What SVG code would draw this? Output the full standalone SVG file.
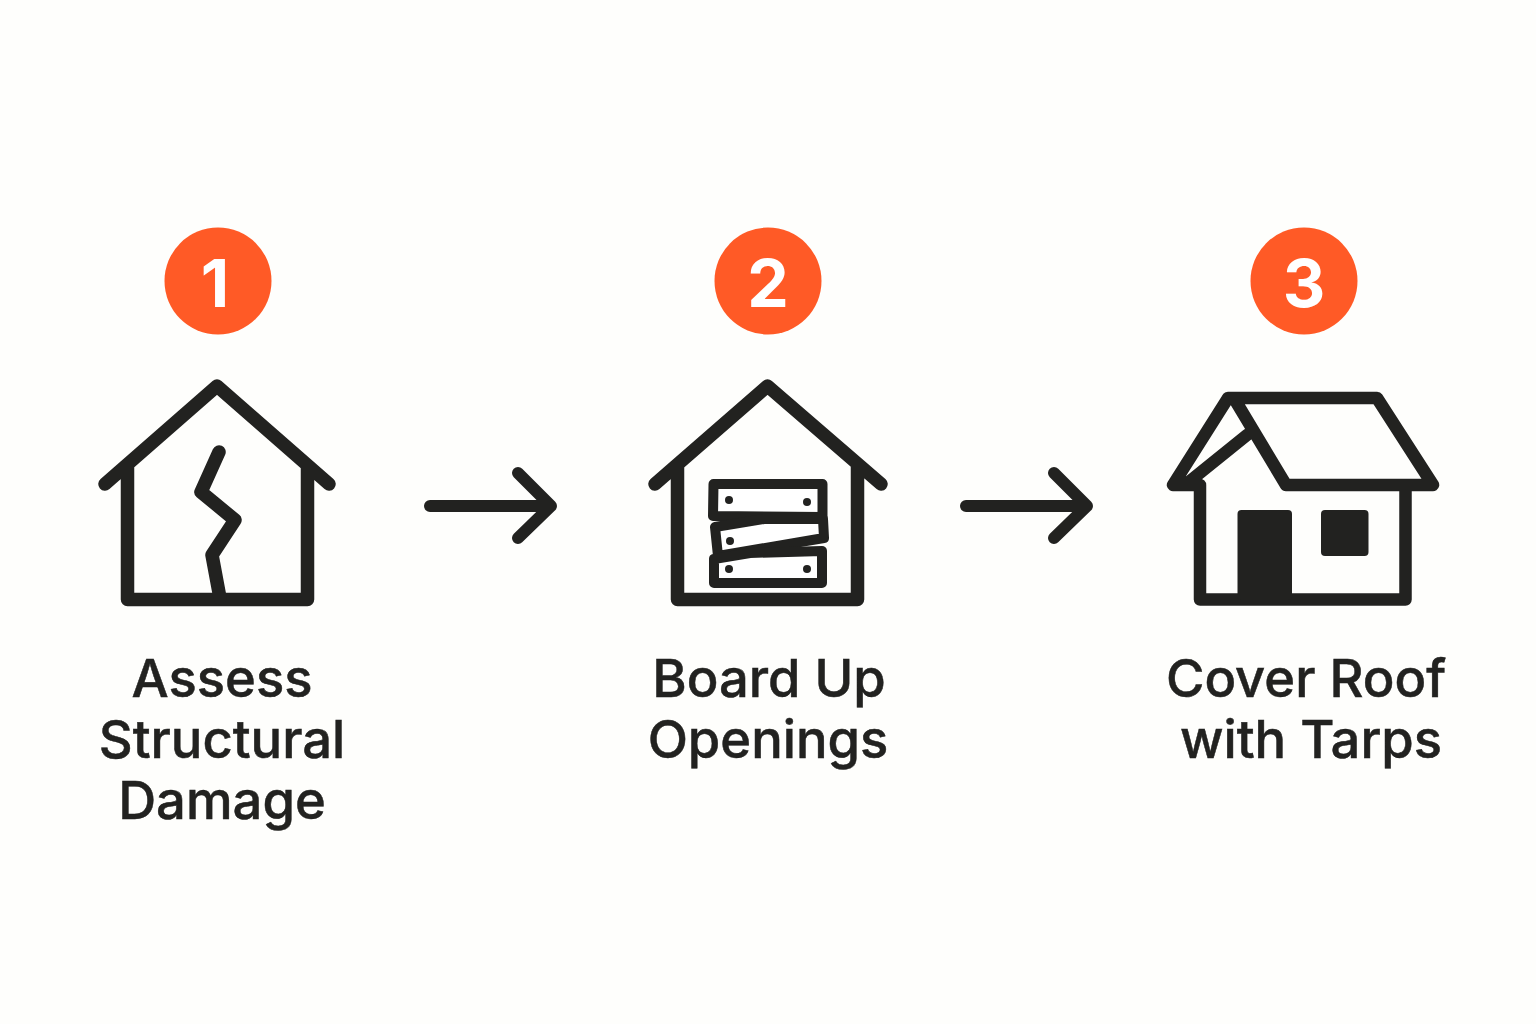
<svg xmlns="http://www.w3.org/2000/svg" width="1536" height="1024" viewBox="0 0 1536 1024">
<style>
.l{fill:none;stroke:#222220;stroke-width:13.500;stroke-linecap:round;stroke-linejoin:round}
.r{fill:none;stroke:#222220;stroke-width:12.500;stroke-linecap:round;stroke-linejoin:round}
.a{fill:none;stroke:#222220;stroke-width:12;stroke-linecap:round;stroke-linejoin:round}
.b{fill:#fff;stroke:#222220;stroke-width:10;stroke-linejoin:round}
.d{fill:#222220}
.c{fill:#ff5a26}
.n{font-family:Inter,"Liberation Sans",sans-serif;font-weight:700;font-size:66px;fill:#fff;text-anchor:middle}
.t{font-family:Inter,"Liberation Sans",sans-serif;font-weight:500;font-size:52.500px;fill:#222220;text-anchor:middle;stroke:#222220;stroke-width:.5px}
</style>
<rect width="1536" height="1024" fill="#fefefc"/>
<g id="connectors">
<path class="a" d="M430 506H550M518 473L551 506L518 538"/>
<path class="a" d="M966 506H1086M1054 473L1087 506L1054 538"/>
</g>
<g id="step1">
<circle class="c" cx="218" cy="281" r="53.500"/>
<text class="n" x="215" y="307">1</text>
<path class="l" d="M105 484L217 386L329 484M127.500 466V599.500H307.500V466"/>
<path class="l" d="M219 452L201 492L235 520L212 555L220 598"/>
<text class="t" x="222" y="697">Assess</text>
<text class="t" x="222" y="758">Structural</text>
<text class="t" x="222" y="819">Damage</text>
</g>
<g id="step2">
<circle class="c" cx="768" cy="281" r="53.500"/>
<text class="n" x="768" y="307">2</text>
<path class="l" d="M655 484L767.500 386L881 484M677.500 466V599.500H857.500V466"/>
<path class="b" d="M713.500 484H822.500V517L713 516Z"/>
<path class="b" d="M715 527L764 519H823L824 538L718 556Z"/>
<path class="b" d="M714 559L750 553L822 551V583H714Z"/>
<circle class="d" cx="729" cy="500" r="4"/>
<circle class="d" cx="807" cy="502" r="4"/>
<circle class="d" cx="730" cy="541" r="4"/>
<circle class="d" cx="729" cy="569" r="4"/>
<circle class="d" cx="807" cy="569" r="4"/>
<text class="t" x="769" y="697">Board Up</text>
<text class="t" x="768" y="758">Openings</text>
</g>
<g id="step3">
<circle class="c" cx="1304" cy="281" r="53.500"/>
<text class="n" x="1304" y="307">3</text>
<path class="r" d="M1228 398H1377L1433 485H1286L1235 400M1228 398L1173 485H1200M1185 485L1247 435M1200 485V599.500H1405.500V485"/>
<rect class="d" x="1237.500" y="510" width="54.500" height="90" rx="4"/>
<rect class="d" x="1321" y="510" width="47.500" height="46" rx="4"/>
<text class="t" x="1306" y="697">Cover Roof</text>
<text class="t" x="1311" y="758">with Tarps</text>
</g>
</svg>
